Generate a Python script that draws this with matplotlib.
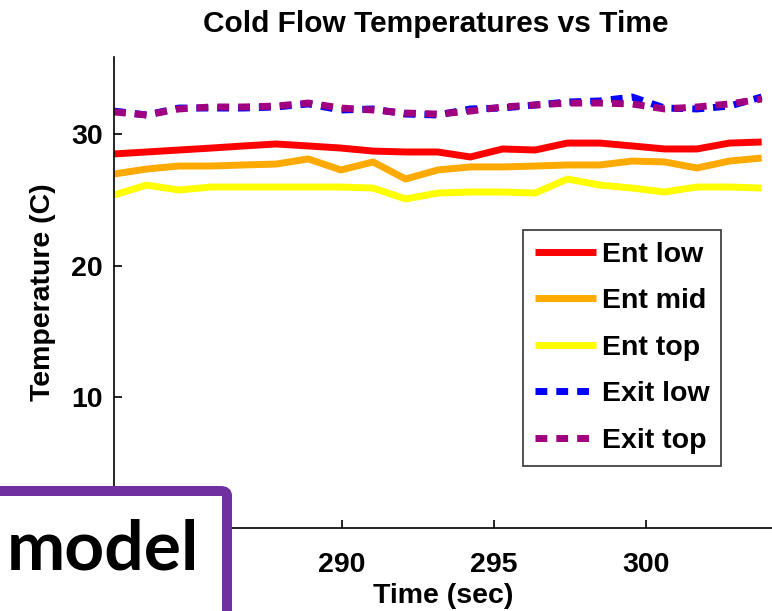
import matplotlib
matplotlib.use("Agg")
import matplotlib.pyplot as plt
from matplotlib.patches import FancyBboxPatch

plt.rcParams['font.family'] = ['Liberation Sans', 'DejaVu Sans']

time_s = [282.5, 283.57, 284.63, 285.70, 286.76, 287.83, 288.89, 289.96, 291.02,
          292.09, 293.15, 294.22, 295.28, 296.35, 297.41, 298.48, 299.54, 300.61,
          301.67, 302.74, 303.80]
ent_low = [28.51, 28.66, 28.81, 28.96, 29.12, 29.27, 29.12, 28.96, 28.73, 28.66,
           28.66, 28.28, 28.89, 28.81, 29.34, 29.34, 29.12, 28.89, 28.89, 29.34, 29.42]
ent_mid = [26.98, 27.36, 27.59, 27.59, 27.67, 27.74, 28.13, 27.29, 27.90, 26.60,
           27.29, 27.52, 27.52, 27.59, 27.67, 27.67, 27.97, 27.90, 27.44, 27.97, 28.20]
ent_top = [25.38, 26.14, 25.76, 25.99, 25.99, 25.99, 25.99, 25.99, 25.91, 25.08,
           25.53, 25.61, 25.61, 25.53, 26.60, 26.14, 25.91, 25.61, 25.99, 25.99, 25.91]
exit_low = [31.78, 31.48, 32.01, 32.01, 32.01, 32.09, 32.32, 31.86, 31.94, 31.55,
            31.48, 31.94, 32.01, 32.24, 32.47, 32.55, 32.85, 32.01, 31.94, 32.16, 32.85]
exit_top = [31.71, 31.48, 31.94, 32.09, 32.09, 32.16, 32.39, 32.01, 31.86, 31.63,
            31.55, 31.78, 32.09, 32.24, 32.39, 32.39, 32.32, 31.94, 32.09, 32.32, 32.70]

x_ticks = [290, 295, 300]   # 285 and 0 are hidden behind the overlay box
y_ticks = [10, 20, 30]
title = "Cold Flow Temperatures vs Time"
labels = ["Ent low", "Ent mid", "Ent top", "Exit low", "Exit top"]

W, H = 772, 611
FS = 20.5
fig = plt.figure(figsize=(W / 100, H / 100), dpi=100)
ax = fig.add_axes([114 / W, (H - 528) / H, 1 - 114 / W, (528 - 57) / H])

lw = 5
dash = (0, (1.7, 1.3))
ax.plot(time_s, ent_low, color='#FF0000', lw=lw, label=labels[0], solid_capstyle='butt')
ax.plot(time_s, ent_mid, color='#FFAA00', lw=lw, label=labels[1], solid_capstyle='butt')
ax.plot(time_s, ent_top, color='#FFFF00', lw=lw, label=labels[2], solid_capstyle='butt')
ax.plot(time_s, exit_low, color='#0000FF', lw=lw, ls=dash, label=labels[3])
ax.plot(time_s, exit_top, color='#A0007F', lw=lw, ls=dash, label=labels[4])

ax.set_xlim(282.5, 304.14)
ax.set_ylim(0, 35.9)
ax.set_xticks(x_ticks)
ax.set_yticks(y_ticks)
ax.tick_params(direction='in', length=6, width=1.2, labelsize=FS)
ax.tick_params(axis='x', pad=17)
ax.tick_params(axis='y', pad=8)
for t in ax.get_xticklabels() + ax.get_yticklabels():
    t.set_fontweight('bold')
for s in ['top', 'right']:
    ax.spines[s].set_visible(False)
for s in ['left', 'bottom']:
    ax.spines[s].set_linewidth(1.2)

ax.set_xlabel("Time (sec)", fontsize=FS, fontweight='bold', labelpad=4)
ax.set_ylabel("Temperature (C)", fontsize=FS, fontweight='bold', labelpad=11)
fig.text(436 / W, 1 - 32 / H, title, ha='center', va='baseline', fontsize=21.5,
         fontweight='bold')

leg = ax.legend(loc='upper left', bbox_to_anchor=(523 / W, 1 - 230 / H),
                bbox_transform=fig.transFigure, prop={'weight': 'bold', 'size': FS},
                frameon=True, fancybox=False, edgecolor='black', handlelength=2.15,
                handletextpad=0.2, labelspacing=0.72, borderpad=0.42, borderaxespad=0)
leg.get_frame().set_linewidth(1.2)

# overlay box
box = FancyBboxPatch((-20 / W, -20 / H), (227 + 20) / W, (611 - 491 + 20) / H,
                     boxstyle='round,pad=0,rounding_size=0.008', transform=fig.transFigure,
                     facecolor='white', edgecolor='#7030A0', lw=7.2, zorder=10)
fig.add_artist(box)
fig.text(7 / W, 1 - 570 / H, "model", fontsize=50, fontweight='bold', family='Lato',
         ha='left', va='baseline', color='black', zorder=11)

fig.savefig("out.png", dpi=100)
